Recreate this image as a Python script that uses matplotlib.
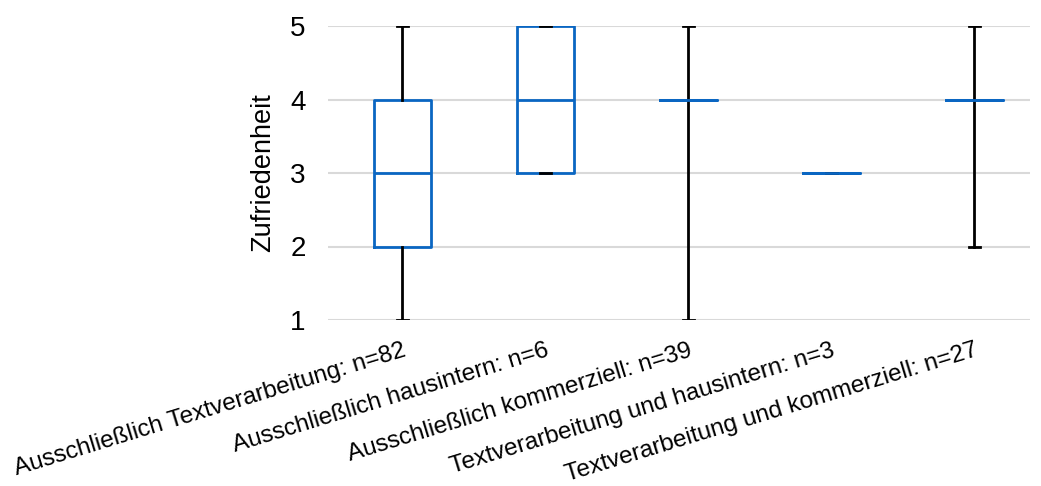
import matplotlib
matplotlib.use("Agg")
import matplotlib.pyplot as plt

plt.rcParams['font.family'] = ['Liberation Sans', 'DejaVu Sans']

categories = [
    "Ausschließlich Textverarbeitung: n=82",
    "Ausschließlich hausintern: n=6",
    "Ausschließlich kommerziell: n=39",
    "Textverarbeitung und hausintern: n=3",
    "Textverarbeitung und kommerziell: n=27",
]
whis_lo = [1, 3, 1, 3, 2]
q1 = [2, 3, 4, 3, 4]
median = [3, 4, 4, 3, 4]
q3 = [4, 5, 4, 3, 4]
whis_hi = [5, 5, 5, 3, 5]

stats = []
for i in range(len(categories)):
    stats.append(dict(whislo=whis_lo[i], q1=q1[i], med=median[i],
                      q3=q3[i], whishi=whis_hi[i], fliers=[]))

blue = '#0a66c2'

fig = plt.figure(figsize=(10.41, 4.86), dpi=100)
ax = fig.add_axes([328 / 1041, 1 - 320 / 486, (1030 - 328) / 1041, (320 - 26) / 486])

pos = list(range(1, len(categories) + 1))
ax.bxp(stats, positions=pos, widths=0.4, showfliers=False,
       boxprops=dict(color=blue, linewidth=2),
       medianprops=dict(color=blue, linewidth=2),
       whiskerprops=dict(color='black', linewidth=2),
       capprops=dict(color='black', linewidth=2),
       capwidths=0.08, zorder=3)

ax.set_xlim(0.48, 5.39)
ax.set_ylim(1, 5)
ax.set_yticks([1, 2, 3, 4, 5])
ax.yaxis.grid(True, color='#d9d9d9', linewidth=1.5, zorder=0)
ax.set_axisbelow(True)
for s in ax.spines.values():
    s.set_visible(False)
ax.tick_params(axis='both', length=0)
ax.tick_params(axis='y', labelsize=20, pad=16)
ax.set_ylabel("Zufriedenheit", fontsize=19.5, labelpad=10)
ax.set_xticks(pos)
ax.set_xticklabels(categories, rotation=17, ha='right',
                   rotation_mode='anchor', fontsize=17.5)
ax.tick_params(axis='x', pad=14)

fig.savefig("out.png", dpi=100)
